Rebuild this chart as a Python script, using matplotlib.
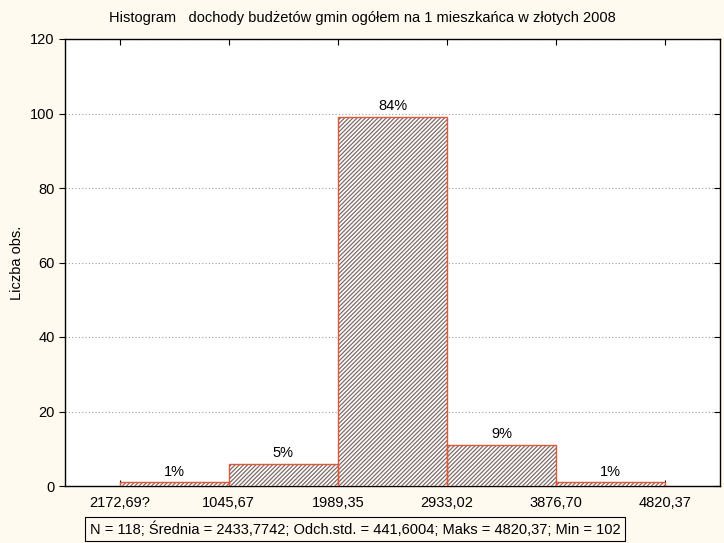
import matplotlib
matplotlib.use("Agg")
import matplotlib.pyplot as plt

# dane histogramu
edge_labels = ["2172,69?", "1045,67", "1989,35", "2933,02", "3876,70", "4820,37"]
counts = [1, 6, 99, 11, 1]
pct_labels = ["1%", "5%", "84%", "9%", "1%"]

title = "Histogram   dochody budżetów gmin ogółem na 1 mieszkańca w złotych 2008"
stats = "N = 118; Średnia = 2433,7742; Odch.std. = 441,6004; Maks = 4820,37; Min = 102"

plt.rcParams["font.family"] = ["Liberation Sans", "DejaVu Sans"]
plt.rcParams["hatch.linewidth"] = 0.9

BG = "#FFFAEF"
EDGE = "#E0583A"
HATCH = "#7f6a66"
FS = 10.5

fig = plt.figure(figsize=(7.24, 5.43), dpi=100, facecolor=BG)
ax = fig.add_axes([65/724, 1 - 486/543, 655/724, 447/543])
ax.set_facecolor("white")

xs = [i + 0.5 for i in range(len(counts))]
# kreskowanie osobno, obramowanie osobno
ax.bar(xs, counts, width=1.0, facecolor="white", edgecolor=HATCH,
       linewidth=0, hatch="////////", zorder=3)
ax.bar(xs, counts, width=1.0, facecolor="none", edgecolor=EDGE,
       linewidth=1.0, zorder=4)

for x, c, p in zip(xs, counts, pct_labels):
    ax.text(x, c + 1.0, p, ha="center", va="bottom", fontsize=FS, zorder=5)

ax.set_xlim(-0.5, 5.5)
ax.set_ylim(0, 120)
ax.set_xticks(range(len(edge_labels)))
ax.set_xticklabels(edge_labels, fontsize=FS)
ax.set_yticks(range(0, 121, 20))
ax.tick_params(axis="y", labelsize=FS, direction="out", length=4, right=True)
ax.tick_params(axis="x", direction="in", length=4, top=True, pad=7)
for t in ax.yaxis.get_ticklines()[1::2]:
    t.set_marker(0)  # prawe znaczniki do środka
ax.grid(axis="y", color="#a0a0a0", ls=(0, (1, 2)), lw=0.8, zorder=0)
for s in ax.spines.values():
    s.set_color("black")
    s.set_linewidth(1.0)

ax.set_ylabel("Liczba obs.", fontsize=FS, labelpad=4)

fig.text(362/724, 1 - 18/543, title, ha="center", va="center", fontsize=FS)
fig.text(355/724, 1 - 529/543, stats, ha="center", va="center", fontsize=FS,
         bbox=dict(boxstyle="square,pad=0.3", facecolor=BG, edgecolor="black", lw=0.8))

fig.savefig("out.png", dpi=100, facecolor=BG)
